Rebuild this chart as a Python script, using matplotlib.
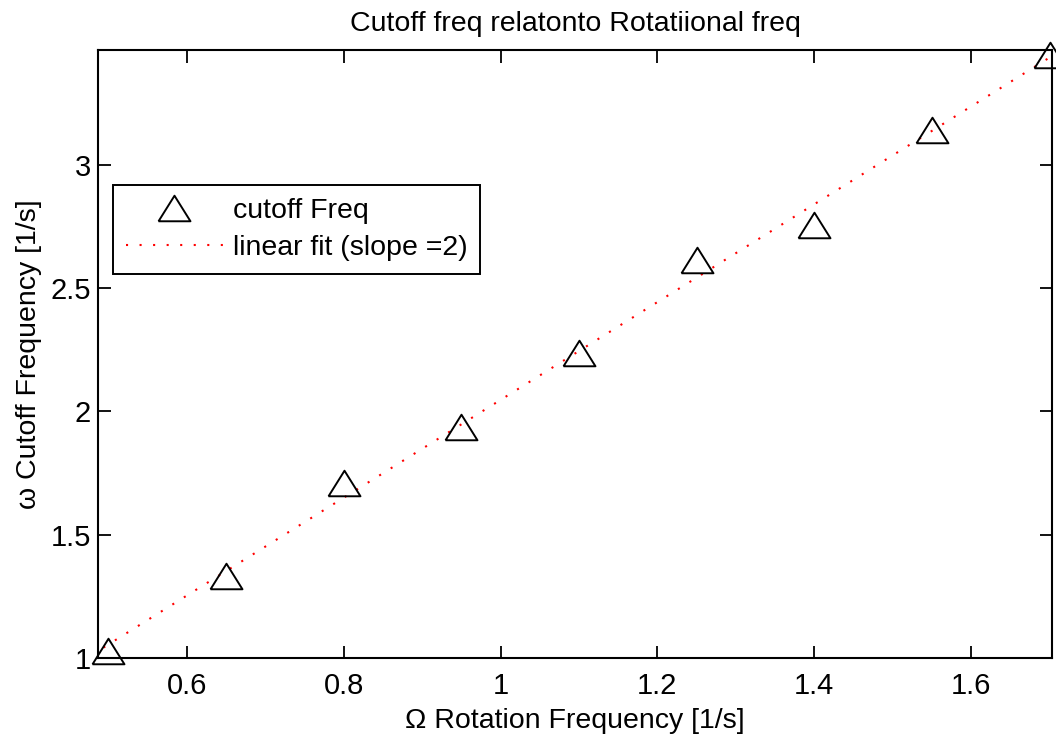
import numpy as np
import matplotlib
matplotlib.use('Agg')
from matplotlib import pyplot as plt
from matplotlib.ticker import FuncFormatter

# dados
rotFreq = [0.5, 0.65, 0.8, 0.95, 1.1, 1.25, 1.4, 1.55, 1.7]
cutFreq = [1.03, 1.333, 1.710, 1.935, 2.239, 2.616, 2.758, 3.14, 3.446]
xTicks = [0.6, 0.8, 1.0, 1.2, 1.4, 1.6]
yTicks = [1, 1.5, 2, 2.5, 3]

plt.rcParams['font.family'] = ['Liberation Sans', 'DejaVu Sans']
fs = 20.5

fig = plt.figure(figsize=(10.56, 7.41), dpi=100)
ax = fig.add_axes([0.0928, 0.112, 0.9035, 0.8205])

# ajuste linear (slope ~2)
coef = np.polyfit(rotFreq, cutFreq, 1)
xFit = np.array([0.45, 1.75])
yFit = np.polyval(coef, xFit)

# triangulo fechado, estilo matlab
tri = [(-1, -0.8), (1, -0.8), (0, 0.8), (-1, -0.8)]
ax.plot(rotFreq, cutFreq, linestyle='none', marker=tri, markersize=23,
        markerfacecolor='none', markeredgecolor='black', markeredgewidth=1.4,
        label='cutoff Freq', clip_on=False, zorder=3)
ax.plot(xFit, yFit, color='red', linewidth=1.5, linestyle=(0, (1, 5.5)),
        label='linear fit (slope =2)', zorder=2)

ax.set_xlim(0.487, 1.703)
ax.set_ylim(1.0, 3.466)
ax.set_xticks(xTicks)
ax.set_yticks(yTicks)
fmt = FuncFormatter(lambda v, p: '%g' % v)
ax.xaxis.set_major_formatter(fmt)
ax.yaxis.set_major_formatter(fmt)
ax.tick_params(direction='in', length=9, width=1.3, labelsize=21, pad=10,
               top=True, right=True)
ax.tick_params(axis='y', pad=5)
for s in ax.spines.values():
    s.set_linewidth(1.5)

ax.set_title('Cutoff freq relatonto Rotatiional freq', fontsize=fs, pad=14)
ax.set_xlabel('\u03a9 Rotation Frequency [1/s]', fontsize=fs, labelpad=6)
ax.set_ylabel('\u03c9 Cutoff Frequency [1/s]', fontsize=fs, labelpad=6)

leg = ax.legend(loc='upper left', bbox_to_anchor=(0.0157, 0.778),
                fontsize=fs, frameon=True, fancybox=False, framealpha=1,
                edgecolor='black', borderaxespad=0, handlelength=3.4,
                handletextpad=0.35, borderpad=0.45, labelspacing=0.4)
leg.get_frame().set_linewidth(1.4)

fig.savefig('out.png', dpi=100)
